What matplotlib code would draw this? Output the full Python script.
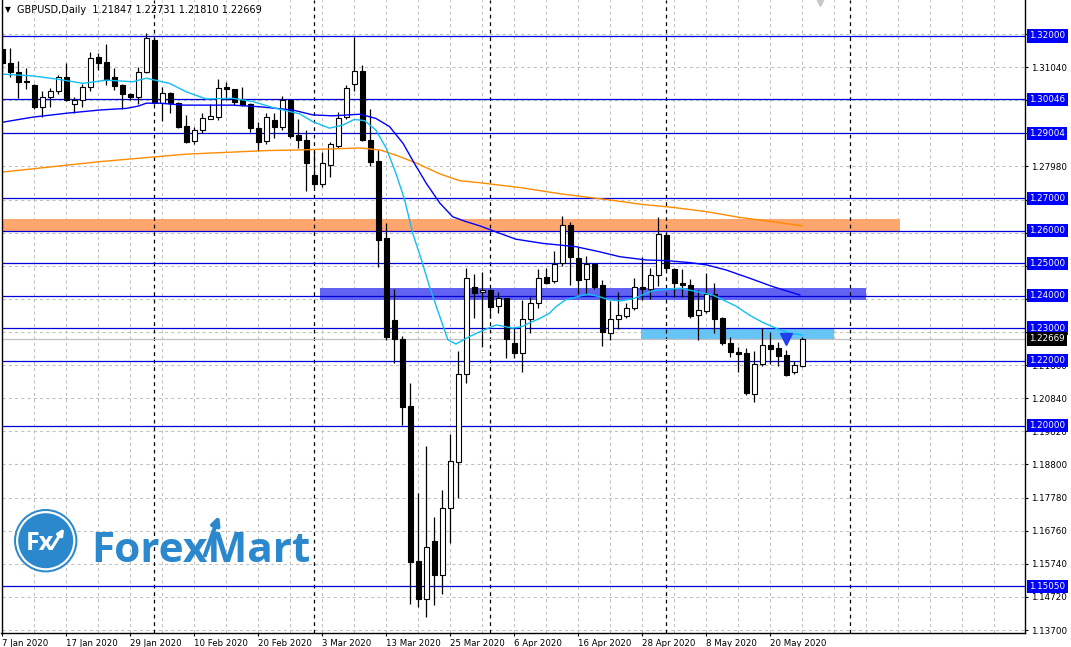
import numpy as np
import pandas as pd
import matplotlib.pyplot as plt
import matplotlib.patches as patches
import matplotlib.transforms as mtrans

# ==========================================================
# DADOS (GBPUSD Daily, 7 Jan 2020 - 26 May 2020)
# ==========================================================
opens = [1.3159, 1.3118, 1.3090, 1.3062, 1.3049, 1.2982, 1.3013, 1.3031, 1.3073, 1.2990,
         1.3003, 1.3042, 1.3134, 1.3121, 1.3073, 1.3049, 1.3020, 1.3013, 1.3088, 1.3188,
         1.2995, 1.3023, 1.2995, 1.2923, 1.2877, 1.2910, 1.2945, 1.2951, 1.3042, 1.3036,
         1.3003, 1.2991, 1.2916, 1.2877, 1.2941, 1.2921, 1.3003, 1.2895, 1.2880, 1.2772,
         1.2744, 1.2804, 1.2862, 1.2950, 1.3051, 1.3092, 1.2880, 1.2815, 1.2577, 1.2325,
         1.2267, 1.2060, 1.1584, 1.1465, 1.1644, 1.1540, 1.1745, 1.1889, 1.2159, 1.2426,
         1.2411, 1.2418, 1.2368, 1.2392, 1.2253, 1.2224, 1.2327, 1.2378, 1.2457, 1.2446,
         1.2502, 1.2618, 1.2515, 1.2450, 1.2498, 1.2433, 1.2286, 1.2327, 1.2337, 1.2361,
         1.2426, 1.2420, 1.2463, 1.2587, 1.2482, 1.2438, 1.2432, 1.2340, 1.2354, 1.2404,
         1.2331, 1.2253, 1.2226, 1.2222, 1.2096, 1.2189, 1.2248, 1.2238, 1.2217, 1.2164,
         1.21847]
highs = [1.3208, 1.3164, 1.3123, 1.3100, 1.3052, 1.3031, 1.3039, 1.3080, 1.3116, 1.3013,
         1.3052, 1.3152, 1.3149, 1.3175, 1.3100, 1.3052, 1.3023, 1.3105, 1.3208, 1.3194,
         1.3042, 1.3028, 1.2998, 1.2957, 1.2921, 1.2964, 1.2990, 1.3068, 1.3059, 1.3037,
         1.3042, 1.2993, 1.2936, 1.2962, 1.2962, 1.3015, 1.3005, 1.2943, 1.2910, 1.2846,
         1.2844, 1.2874, 1.2965, 1.3049, 1.3196, 1.3111, 1.2974, 1.2849, 1.2625, 1.2420,
         1.2276, 1.2130, 1.1793, 1.1937, 1.1717, 1.1801, 1.1974, 1.2230, 1.2484, 1.2467,
         1.2474, 1.2420, 1.2412, 1.2394, 1.2300, 1.2387, 1.2397, 1.2482, 1.2484, 1.2538,
         1.2645, 1.2627, 1.2551, 1.2522, 1.2500, 1.2448, 1.2385, 1.2412, 1.2378, 1.2454,
         1.2518, 1.2484, 1.2643, 1.2590, 1.2484, 1.2482, 1.2451, 1.2417, 1.2469, 1.2438,
         1.2333, 1.2274, 1.2243, 1.2238, 1.2230, 1.2300, 1.2289, 1.2258, 1.2233, 1.2200,
         1.22731]
lows = [1.3090, 1.3075, 1.3010, 1.3036, 1.2975, 1.2950, 1.2982, 1.3020, 1.3000, 1.2962,
        1.2980, 1.3031, 1.3095, 1.3049, 1.3034, 1.2974, 1.3003, 1.2991, 1.3085, 1.2990,
        1.2939, 1.2964, 1.2916, 1.2870, 1.2867, 1.2902, 1.2943, 1.2941, 1.3003, 1.2987,
        1.2985, 1.2905, 1.2847, 1.2867, 1.2885, 1.2910, 1.2885, 1.2856, 1.2723, 1.2736,
        1.2736, 1.2767, 1.2856, 1.2943, 1.3031, 1.2875, 1.2800, 1.2489, 1.2263, 1.2193,
        1.2002, 1.1450, 1.1442, 1.1409, 1.1447, 1.1481, 1.1639, 1.1778, 1.2131, 1.2331,
        1.2243, 1.2330, 1.2348, 1.2207, 1.2207, 1.2166, 1.2286, 1.2361, 1.2435, 1.2440,
        1.2491, 1.2433, 1.2405, 1.2405, 1.2421, 1.2245, 1.2263, 1.2296, 1.2330, 1.2356,
        1.2387, 1.2389, 1.2430, 1.2479, 1.2395, 1.2396, 1.2331, 1.2263, 1.2348, 1.2284,
        1.2248, 1.2210, 1.2166, 1.2094, 1.2073, 1.2183, 1.2190, 1.2184, 1.2154, 1.2160,
        1.21810]
closes = [1.3116, 1.3088, 1.3059, 1.3059, 1.2982, 1.3013, 1.3031, 1.3073, 1.3003, 1.3003,
          1.3042, 1.3131, 1.3118, 1.3064, 1.3047, 1.3020, 1.3013, 1.3088, 1.3195, 1.2993,
          1.3023, 1.2993, 1.2919, 1.2874, 1.2910, 1.2946, 1.2954, 1.3039, 1.3038, 1.2998,
          1.2987, 1.2916, 1.2874, 1.2950, 1.2921, 1.3003, 1.2892, 1.2880, 1.2810, 1.2744,
          1.2808, 1.2867, 1.2946, 1.3039, 1.3092, 1.2880, 1.2813, 1.2572, 1.2274, 1.2266,
          1.2058, 1.1580, 1.1465, 1.1625, 1.1540, 1.1745, 1.1891, 1.2159, 1.2454, 1.2409,
          1.2418, 1.2366, 1.2392, 1.2266, 1.2224, 1.2327, 1.2378, 1.2454, 1.2440, 1.2498,
          1.2618, 1.2518, 1.2448, 1.2498, 1.2426, 1.2289, 1.2328, 1.2340, 1.2361, 1.2426,
          1.2420, 1.2463, 1.2590, 1.2484, 1.2438, 1.2432, 1.2337, 1.2356, 1.2404, 1.2329,
          1.2255, 1.2227, 1.2221, 1.2101, 1.2190, 1.2248, 1.2235, 1.2214, 1.2156, 1.2186,
          1.22669]

datas = pd.bdate_range('2020-01-07', '2020-05-26')

# medias moveis (posicao em barras)
ma_rapida_x = [-0.3, 3.8, 6.9, 10.1, 13, 16.3, 18, 20.9, 23, 25.5, 28.8, 31.3, 34.2, 37.2, 38.8,
               40.9, 42.6, 44, 45.3, 46.7, 48, 49.2, 50.3, 51.3, 52.4, 53.4, 54.7, 55.7, 56.7,
               58.4, 59.7, 61.75, 63.8, 65, 65.8, 67.2, 68.4, 69.2, 70.4, 72.5, 73.3, 74.6, 75.9,
               77.3, 78.9, 80.5, 81.3, 83, 84.7, 86.3, 88.8, 90.1, 91.7, 93.4, 95.1, 96.7, 98.4, 100]
ma_rapida_y = [1.3083, 1.3077, 1.3067, 1.3054, 1.3064, 1.3059, 1.3070, 1.3054, 1.3028, 1.3006,
               1.3008, 1.2998, 1.2977, 1.2960, 1.2936, 1.2916, 1.2926, 1.2943, 1.2939, 1.2910,
               1.2854, 1.2777, 1.2695, 1.2592, 1.2510, 1.2428, 1.2335, 1.2264, 1.2251, 1.2274,
               1.2289, 1.2310, 1.2300, 1.2305, 1.2315, 1.2330, 1.2346, 1.2366, 1.2387, 1.2401,
               1.2405, 1.2397, 1.2387, 1.2384, 1.2391, 1.2407, 1.2415, 1.2420, 1.2423, 1.2415,
               1.2402, 1.2387, 1.2368, 1.2340, 1.2317, 1.2300, 1.2284, 1.2279]
ma_media_x = [-0.3, 3.8, 8, 12.2, 15.5, 17, 18, 19.7, 22.6, 28.8, 32.2, 36.3, 38.8, 41.3, 44.7,
              46.7, 48.4, 50.1, 51.5, 53, 54.7, 56.3, 58, 59.7, 62.2, 64.2, 67.6, 71.7, 74.7,
              77.2, 80.5, 83, 85.9, 88, 90.5, 93.4, 96.3, 99.7]
ma_media_y = [1.2933, 1.2950, 1.2962, 1.2972, 1.2977, 1.2984, 1.2993, 1.2993, 1.2987, 1.2987,
              1.2982, 1.2972, 1.2957, 1.2954, 1.2959, 1.2946, 1.2921, 1.2869, 1.2808, 1.2746,
              1.2685, 1.2643, 1.2628, 1.2615, 1.2592, 1.2574, 1.2561, 1.2551, 1.2535, 1.2520,
              1.2510, 1.2508, 1.2502, 1.2495, 1.2479, 1.2454, 1.2428, 1.2402]
ma_lenta_x = [-0.3, 12.2, 23, 33, 37.2, 44.7, 47.2, 49.2, 51.8, 54.7, 57.2, 59.7, 65, 70, 75.9,
              79.7, 83.8, 88, 92.2, 96.3, 100]
ma_lenta_y = [1.2780, 1.2813, 1.2836, 1.2847, 1.2849, 1.2855, 1.2849, 1.2833, 1.2808, 1.2775,
              1.2754, 1.2748, 1.2732, 1.2713, 1.2695, 1.2682, 1.2672, 1.2659, 1.2641, 1.2628, 1.2615]

niveis = [1.32, 1.30046, 1.29004, 1.27, 1.26, 1.25, 1.24, 1.23, 1.22, 1.20, 1.1505]
precos_grade = [1.1370, 1.1472, 1.1574, 1.1676, 1.1778, 1.1880, 1.1982, 1.2084, 1.2186, 1.2288,
                1.2390, 1.2492, 1.2594, 1.2696, 1.2798, 1.2900, 1.3002, 1.3104, 1.3206]

# zonas: (barra inicial, barra final, preco baixo, preco alto)
zona_laranja = (-0.1, 112.2, 1.2600, 1.2635)
zona_azul = (39.7, 108.0, 1.2386, 1.2425)
zona_ciano = (79.8, 104.0, 1.2262, 1.2300)
seta_barra, seta_preco = 98, 1.2267

# ==========================================================
# FIGURA
# ==========================================================
W, H = 1071, 647
fig = plt.figure(figsize=(W / 100, H / 100), dpi=100)
fig.patch.set_facecolor('white')
ax = fig.add_axes([1.5 / W, 14 / H, 1023.5 / W, 633 / H])
ax.set_xlim(-0.1, 127.84)
ax.set_ylim(1.13608, 1.33109)

cinza = '#c0c0c0'
tracejado = (0, (3, 3))

# grade
for xv in range(0, 128, 4):
    ax.axvline(xv, color=cinza, ls=tracejado, lw=0.75, zorder=0.5)
for yv in precos_grade:
    ax.axhline(yv, color=cinza, ls=tracejado, lw=0.75, zorder=0.5)

# zonas
for (x0, x1, y0, y1), cor in [(zona_laranja, '#ffa56e'), (zona_azul, '#6262f2'), (zona_ciano, '#66c4f7')]:
    ax.add_patch(patches.Rectangle((x0, y0), x1 - x0, y1 - y0, facecolor=cor, edgecolor='none', zorder=1))

# separadores de periodo (inicio de cada mes)
inicios = [i for i in range(1, len(datas)) if datas[i].month != datas[i - 1].month]
inicios.append(len(datas) - 1 + (pd.Timestamp('2020-06-01') - datas[-1]).days)
for i in inicios:
    ax.axvline(i, color='black', ls=tracejado, lw=0.9, zorder=1.5)

# linhas horizontais
for lv in niveis:
    ax.axhline(lv, color='#0000d8', lw=0.9, zorder=2)
ax.axhline(closes[-1], color=cinza, lw=0.9, zorder=2)

# candles
o = np.array(opens); h = np.array(highs); l = np.array(lows); c = np.array(closes)
idx = np.arange(len(o))
alta = c >= o
corpo = np.maximum(np.abs(c - o), 0.00006)
base = np.minimum(o, c)
ax.vlines(idx, l, h, color='black', lw=0.9, zorder=3)
ax.bar(idx[alta], corpo[alta], bottom=base[alta], width=0.6, color='white', edgecolor='black', lw=0.8, zorder=3.5)
ax.bar(idx[~alta], corpo[~alta], bottom=base[~alta], width=0.6, color='black', edgecolor='black', lw=0.8, zorder=3.5)

# medias moveis
ax.plot(ma_lenta_x, ma_lenta_y, color='#ff8c00', lw=1, zorder=4)
ax.plot(ma_media_x, ma_media_y, color='#0000ff', lw=1, zorder=4)
ax.plot(ma_rapida_x, ma_rapida_y, color='#10bff5', lw=1, zorder=4)

# seta de sinal
ax.plot(seta_barra, seta_preco, marker='v', ms=8.5, color='#2040f0', zorder=5)

# marcador de deslocamento no topo
ax.plot(102.2, 1.33035, marker='v', ms=5.5, color='#c8c8c8', zorder=5, clip_on=False)

# ==========================================================
# EIXOS
# ==========================================================
ax.spines['top'].set_visible(False)
for lado in ['left', 'right', 'bottom']:
    ax.spines[lado].set_color('black')
    ax.spines[lado].set_linewidth(1)
    ax.spines[lado].set_zorder(6)

ax.yaxis.tick_right()
ax.set_yticks(precos_grade)
ax.set_yticklabels([f'{p:.5f}' for p in precos_grade])
ax.tick_params(axis='y', length=2.5, width=0.8, labelsize=6.3, pad=1.5, direction='out')

pos_x = list(range(0, len(datas), 8))
ax.set_xticks(pos_x)
ax.set_xticklabels([f'{datas[i].day} {datas[i]:%b %Y}' for i in pos_x])
ax.tick_params(axis='x', length=2.5, width=0.8, labelsize=6.2, pad=1.5, direction='out')
for lab in ax.get_xticklabels():
    lab.set_ha('left')

trans = mtrans.blended_transform_factory(ax.transAxes, ax.transData)
for lv in niveis:
    ax.text(1.0043, lv, f'{lv:.5f}', transform=trans, color='white', fontsize=6.3, va='center',
            ha='left', clip_on=False, zorder=10,
            bbox=dict(boxstyle='square,pad=0.25', facecolor='#0000ff', edgecolor='none'))
ax.text(1.0043, closes[-1], f'{closes[-1]:.5f}', transform=trans, color='white', fontsize=6.3,
        va='center', ha='left', clip_on=False, zorder=11,
        bbox=dict(boxstyle='square,pad=0.25', facecolor='black', edgecolor='none'))

# cabecalho
fig.text(5 / W, 1 - 10 / H, '\u25bc', fontsize=5.5, va='center')
fig.text(17 / W, 1 - 10 / H,
         f'GBPUSD,Daily  {opens[-1]:.5f} {highs[-1]:.5f} {lows[-1]:.5f} {closes[-1]:.5f}',
         fontsize=7, va='center')

# ==========================================================
# LOGO
# ==========================================================
azul_logo = '#2b88cc'
cx, cy = 45.7 / 100, (H - 540.7) / 100
for r, cor in [(0.317, azul_logo), (0.297, 'white'), (0.275, azul_logo)]:
    fig.add_artist(patches.Circle((cx, cy), r, transform=fig.dpi_scale_trans,
                                  facecolor=cor, edgecolor='none', zorder=20))
fig.text(40 / W, (H - 544) / H, 'Fx', fontsize=18, fontweight='bold', family=['Open Sans', 'DejaVu Sans'],
         color='white', ha='center', va='center', zorder=21)
fig.add_artist(patches.FancyArrowPatch((0.50, (H - 551) / 100), (0.655, (H - 526) / 100),
                                       transform=fig.dpi_scale_trans, arrowstyle='-|>',
                                       mutation_scale=9, color='white', lw=2.2, zorder=22))
fig.text(91.7 / W, (H - 561.7) / H, 'ForexMart', fontsize=30.5, fontweight='bold',
         family=['Open Sans', 'DejaVu Sans'], color=azul_logo, ha='left', va='baseline', zorder=21)
fig.add_artist(patches.FancyArrowPatch((2.04, (H - 558) / 100), (2.2, (H - 513) / 100),
                                       transform=fig.dpi_scale_trans, arrowstyle='-|>',
                                       mutation_scale=12, color=azul_logo, lw=3, zorder=22))

fig.savefig('out.png', dpi=100)
